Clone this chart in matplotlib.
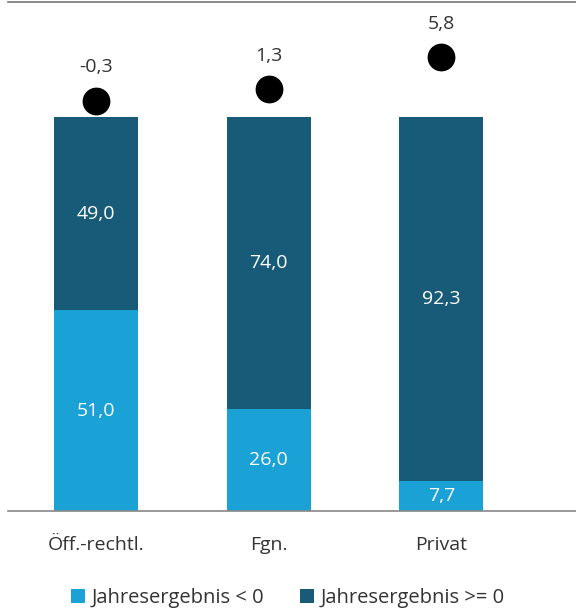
import matplotlib.pyplot as plt

categories = ["Öff.-rechtl.", "Fgn.", "Privat"]
neg_share = [51.0, 26.0, 7.7]      # Jahresergebnis < 0
pos_share = [49.0, 74.0, 92.3]     # Jahresergebnis >= 0
result = [-0.3, 1.3, 5.8]          # dots

c_light = "#1aa1d5"
c_dark = "#185b78"
txt = "#333333"

plt.rcParams['font.family'] = ['Open Sans', 'DejaVu Sans']

fig = plt.figure(figsize=(5.76, 6.10), dpi=100)
ax = fig.add_axes([8/576, 1 - 511/610, 1 - 8/576, (511 - 2)/610])
x = list(range(len(categories)))
w = 0.487

b1 = ax.bar(x, neg_share, width=w, color=c_light, label="Jahresergebnis < 0")
b2 = ax.bar(x, pos_share, width=w, bottom=neg_share, color=c_dark, label="Jahresergebnis >= 0")
for i in x:
    ax.text(i, neg_share[i] / 2, f"{neg_share[i]:.1f}".replace(".", ","),
            ha="center", va="center", color="white", fontsize=14)
    ax.text(i, neg_share[i] + pos_share[i] / 2, f"{pos_share[i]:.1f}".replace(".", ","),
            ha="center", va="center", color="white", fontsize=14)

ax.set_xlim(-0.51, 2.78)
ax.set_ylim(0, 129.2)
ax.set_yticks([])
ax.set_xticks(x)
ax.set_xticklabels(categories, fontsize=14, color=txt)
ax.tick_params(axis="x", length=0, pad=18)
for s in ["left", "right"]:
    ax.spines[s].set_visible(False)
ax.spines["bottom"].set_color("#888888")
ax.spines["top"].set_color("#777777")
ax.spines["bottom"].set_linewidth(1.2)
ax.spines["top"].set_linewidth(1.2)

ax2 = ax.twinx()
ax2.plot(x, result, "o", color="black", markersize=19, linestyle="none")
for i in x:
    ax2.annotate(f"{result[i]:.1f}".replace(".", ","), (i, result[i]),
                 xytext=(0, 24), textcoords="offset points",
                 ha="center", va="center", fontsize=14, color=txt)
ax2.set_ylim(-57.9, 13.55)
ax2.set_yticks([])
for s in ax2.spines.values():
    s.set_visible(False)

fig.legend(handles=[b1, b2], loc="lower center", bbox_to_anchor=(0.5, -0.027), ncol=2,
           frameon=False, fontsize=14.5, handlelength=0.7, handleheight=0.7,
           handletextpad=0.3, columnspacing=1.8, labelcolor=txt)

fig.savefig("out.png", dpi=100)
